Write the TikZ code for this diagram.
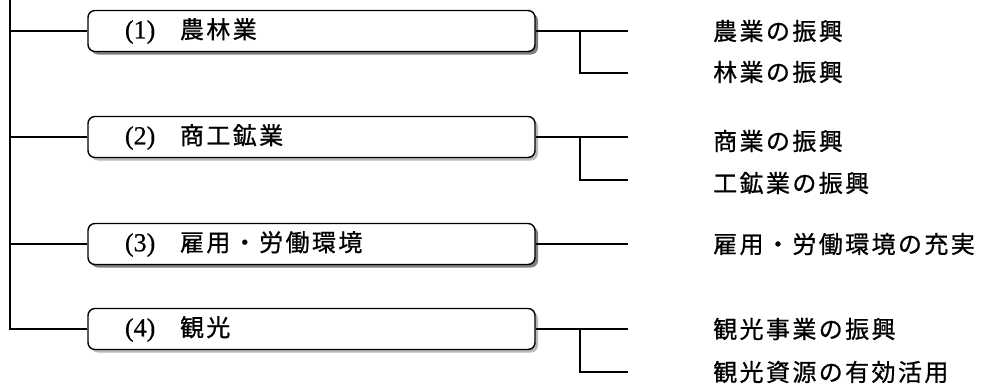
\documentclass[tikz,border=0pt]{standalone}
\usepackage{fontspec}
\newfontfamily\jp[LetterSpace=10, FakeBold=0.8]{Noto Sans CJK JP}
\newfontfamily\suji[FakeBold=0.6]{Liberation Serif}
\usetikzlibrary{shadows}
\newcommand{\bango}[1]{\makebox[55pt][l]{\suji\fontsize{26}{26}\selectfont #1}}

\begin{document}
\begin{tikzpicture}[x=1pt, y=-1pt,
    waku/.style={draw, line width=1.4pt, rounded corners=7pt, fill=white,
      minimum width=447pt, minimum height=41pt, text width=373pt,
      inner xsep=37pt, inner ysep=0pt, align=left,
      font=\jp\fontsize{24}{24}\selectfont,
      drop shadow={shadow xshift=3pt, shadow yshift=-3pt, fill=#1, opacity=1}},
    waku/.default=gray,
    sen/.style={line width=1.8pt},
    komoku/.style={anchor=west, inner sep=0pt, font=\jp\fontsize{24}{24}\selectfont}]
    \useasboundingbox (0,0) rectangle (983,388);

    \node[waku] (b1) at (311.5, 31) {\bango{(1)}農林業};
    \node[waku=gray!55] (b2) at (311.5, 137) {\bango{(2)}商工鉱業};
    \node[waku] (b3) at (311.5, 244) {\bango{(3)}雇用・労働環境};
    \node[waku=gray!55] (b4) at (311.5, 329) {\bango{(4)}観光};

    % 左の線
    \coordinate (top) at (10, 0);
    \draw[sen] (top) |- (b4.west);
    \draw[sen] (b1.west -| top) -- (b1.west);
    \draw[sen] (b2.west -| top) -- (b2.west);
    \draw[sen] (b3.west -| top) -- (b3.west);

    % 右の線
    \coordinate (r1) at (628, 31);
    \coordinate (k1) at (580, 31);
    \coordinate (r1b) at (628, 73);
    \draw[sen] (b1.east) -- (r1);
    \draw[sen] (k1) |- (r1b);

    \coordinate (r2) at (628, 137);
    \coordinate (k2) at (580, 137);
    \coordinate (r2b) at (628, 180);
    \draw[sen] (b2.east) -- (r2);
    \draw[sen] (k2) |- (r2b);

    \coordinate (r3) at (628, 244);
    \draw[sen] (b3.east) -- (r3);

    \coordinate (r4) at (628, 329);
    \coordinate (k4) at (580, 329);
    \coordinate (r4b) at (628, 372);
    \draw[sen] (b4.east) -- (r4);
    \draw[sen] (k4) |- (r4b);

    % 項目
    \node[komoku] (l1a) at (713, 31) {農業の振興};
    \node[komoku] (l1b) at (713, 72) {林業の振興};
    \node[komoku] (l2a) at (713, 141) {商業の振興};
    \node[komoku] (l2b) at (713, 183) {工鉱業の振興};
    \node[komoku] (l3) at (713, 244) {雇用・労働環境の充実};
    \node[komoku] (l4a) at (713, 329) {観光事業の振興};
    \node[komoku] (l4b) at (713, 372) {観光資源の有効活用};

  \end{tikzpicture}
\end{document}
